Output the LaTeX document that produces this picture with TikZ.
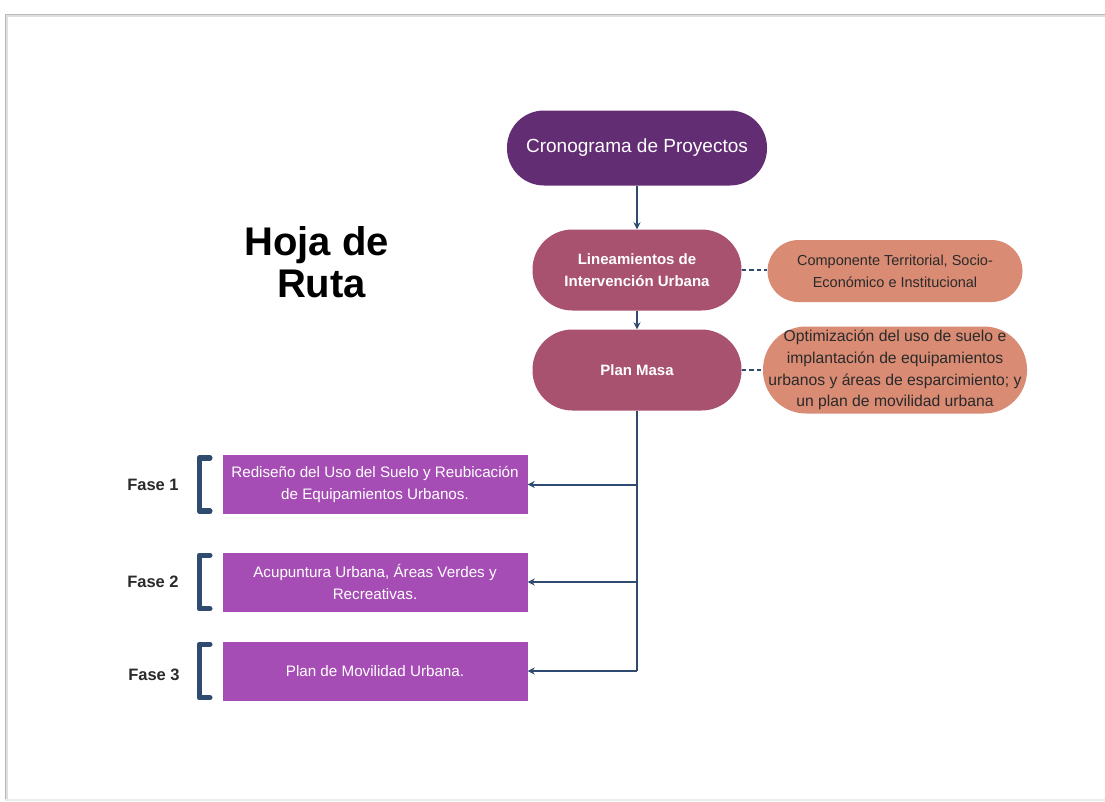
\documentclass[tikz,border=0pt]{standalone}
\usepackage{fontspec}
\setmainfont{Liberation Sans}
\usetikzlibrary{arrows.meta}
\definecolor{cdark}{HTML}{622D73}
\definecolor{cmauve}{HTML}{A8526F}
\definecolor{csalmon}{HTML}{D98B74}
\definecolor{cfase}{HTML}{A64DB5}
\definecolor{cline}{HTML}{2F4C70}
\definecolor{ctext}{HTML}{2A2A2A}
\tikzset{
  pill/.style={draw=none, rounded corners=#1, align=center, inner sep=2pt},
  darkpill/.style={pill=37pt, fill=cdark, text=white, minimum width=260pt, minimum height=75pt, font=\fontsize{19}{23}\selectfont},
  mauvepill/.style={pill=40pt, fill=cmauve, text=white, minimum width=209pt, minimum height=81pt, font=\bfseries\fontsize{15}{21.5}\selectfont},
  salmonpill/.style={pill=#1, fill=csalmon, text=ctext},
  fasebox/.style={draw=none, fill=cfase, text=white, align=center, minimum width=305pt, minimum height=59pt, font=\fontsize{15.2}{22.5}\selectfont},
  faselabel/.style={font=\bfseries\fontsize{16.5}{19}\selectfont, text=ctext},
  conn/.style={draw=cline, line width=2pt},
  arr/.style={conn, -{Stealth[length=7pt,width=7pt]}},
  dashline/.style={draw=cline, line width=1.8pt, dash pattern=on 4.5pt off 3pt},
  brk/.style={draw=cline, line width=5.5pt, line cap=round, line join=round},
}
\begin{document}
\begin{tikzpicture}[x=1pt,y=-1pt]
\useasboundingbox (0,0) rectangle (1105,801);
\fill[white] (0,0) rectangle (1105,801);
% page frame
\draw[gray!25, line width=3pt] (6,801) -- (6,15) -- (1105,15);
\draw[gray!55, line width=1pt] (5,801) -- (5,14) -- (1105,14);
\draw[gray!15, line width=1.5pt] (5,800) -- (1105,800);

\node[font=\bfseries\fontsize{40}{42}\selectfont, align=center, text=black] (title) at (316.5,262) {Hoja de\\\hspace*{10pt}Ruta};

\node[darkpill] (crono) at (637,148) {Cronograma de Proyectos};
\node[mauvepill] (linea) at (637,270) {Lineamientos de\\Intervención Urbana};
\node[mauvepill] (plan) at (637,370) {Plan Masa};
\node[salmonpill=31pt, minimum width=255pt, minimum height=62pt, font=\fontsize{14.5}{22}\selectfont] (comp) at (895,271) {Componente Territorial, Socio-\\Económico e Institucional};
\node[salmonpill=43pt, minimum width=264pt, minimum height=87pt, inner sep=0pt, font=\fontsize{15.7}{21.7}\selectfont] (optim) at (895,370) {Optimización del uso de suelo e\\implantación de equipamientos\\urbanos y áreas de esparcimiento; y\\un plan de movilidad urbana};

\node[fasebox] (f1) at (375,484.5) {Rediseño del Uso del Suelo y Reubicación\\de Equipamientos Urbanos.};
\node[fasebox] (f2) at (375,582) {Acupuntura Urbana, Áreas Verdes y\\Recreativas.};
\node[fasebox] (f3) at (375,671) {Plan de Movilidad Urbana.};

\node[faselabel] (l1) at (153,485) {Fase 1};
\node[faselabel] (l2) at (153,582) {Fase 2};
\node[faselabel] (l3) at (154,675) {Fase 3};

% brackets
\draw[brk] ([xshift=-12.5pt,yshift=-3pt]f1.north west) -- ++(-10.5,0) |- ([xshift=-12.5pt,yshift=3pt]f1.south west);
\draw[brk] ([xshift=-12.5pt,yshift=-3pt]f2.north west) -- ++(-10.5,0) |- ([xshift=-12.5pt,yshift=3pt]f2.south west);
\draw[brk] ([xshift=-12.5pt,yshift=-3pt]f3.north west) -- ++(-10.5,0) |- ([xshift=-12.5pt,yshift=3pt]f3.south west);

% connectors
\draw[arr] (crono.south) -- (linea.north);
\draw[arr] (linea.south) -- (plan.north);
\draw[dashline] (linea.east) -- (linea.east -| comp.west);
\draw[dashline] (plan.east) -- (plan.east -| optim.west);
\coordinate (j3) at (plan.south |- f3.east);
\draw[conn] (plan.south) -- (j3);
\draw[arr] (plan.south |- f1.east) -- (f1.east);
\draw[arr] (plan.south |- f2.east) -- (f2.east);
\draw[arr] (j3) -- (f3.east);
\end{tikzpicture}
\end{document}
